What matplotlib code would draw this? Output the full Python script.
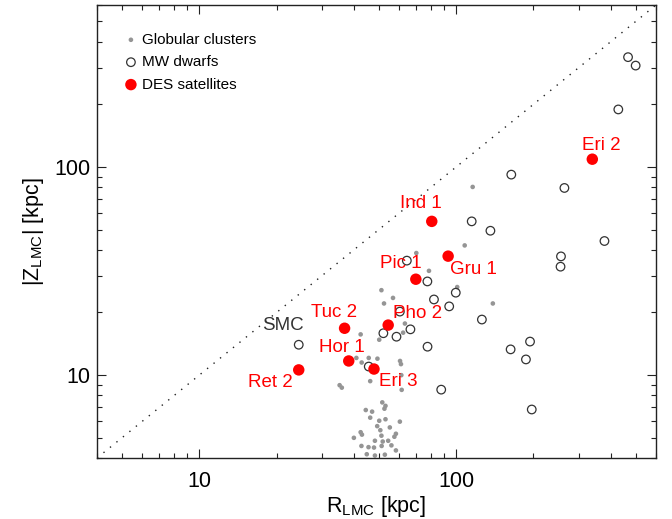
import numpy as np
import matplotlib.pyplot as plt
from matplotlib import ticker

plt.rcParams['font.family'] = ['Liberation Sans', 'DejaVu Sans']
plt.rcParams['mathtext.fontset'] = 'custom'
plt.rcParams['mathtext.rm'] = 'Liberation Sans'
plt.rcParams['mathtext.it'] = 'Liberation Sans:italic'

# Globular clusters: distance from LMC centre (R) and height above LMC disc (|Z), kpc
gc_r = [116, 108, 70.0, 78.4, 101, 139, 51.2, 56.8, 52.4, 63.2, 62.2, 42.5, 50.2,
        40.9, 42.9, 45.7, 49.4, 60.5, 61.0, 61.2, 46.3, 35.2, 35.9, 61.4, 51.6,
        53.1, 52.6, 44.5, 47.1, 46.3, 50.2, 53.1, 60.4, 49.3, 55.2, 42.5, 43.0,
        40.0, 50.7, 51.2, 58.3, 57.5, 48.3, 51.8, 54.4, 42.8, 45.6, 47.9, 56.0,
        58.3, 44.9, 48.3, 52.8, 51.3]
gc_z = [80.2, 42.0, 38.6, 31.7, 26.5, 22.1, 25.6, 23.5, 22.1, 17.7, 16.0, 15.7, 14.8,
        12.1, 11.5, 12.1, 12.0, 11.7, 11.3, 10.0, 9.36, 8.95, 8.71, 8.50, 7.40,
        7.12, 6.90, 6.80, 6.68, 6.25, 6.04, 6.14, 5.98, 5.69, 5.61, 5.32, 5.18,
        5.00, 5.44, 5.12, 5.23, 5.06, 4.84, 4.80, 4.84, 4.57, 4.51, 4.49, 4.60,
        4.35, 4.17, 4.11, 4.15, 4.57]

# Milky Way dwarf galaxies (SMC is the first entry)
mw_r = [24.4, 467, 500, 428, 164, 264, 115, 136, 378, 256, 255, 99.7, 82.0, 94.0,
        126, 194, 163, 187, 87.5, 197, 77.3, 64.3, 66.4, 52.1, 58.6, 77.4, 45.7, 60.4]
mw_z = [14.0, 337, 307, 189, 91.9, 79.3, 54.8, 49.4, 44.1, 37.2, 33.2, 24.9, 23.1, 21.4,
        18.5, 14.5, 13.3, 11.9, 8.52, 6.84, 28.2, 35.5, 16.6, 15.9, 15.3, 13.7, 11.0, 20.2]

# DES satellites
des_names = ['Ret 2', 'Hor 1', 'Tuc 2', 'Eri 3', 'Pho 2', 'Pic 1', 'Gru 1', 'Ind 1', 'Eri 2']
des_r = [24.4, 38.2, 36.8, 47.9, 54.4, 69.7, 93.1, 80.4, 339]
des_z = [10.6, 11.7, 16.8, 10.7, 17.4, 28.9, 37.3, 54.8, 109]
# label offsets in pixels from each point
des_off = [(-28, -13), (-7, 13), (-11, 16), (24, -12), (29, 12),
           (-15, 16), (25, -13), (-11, 18), (9, 14)]

fig = plt.figure(figsize=(6.72, 5.19), dpi=100)
ax = fig.add_axes([97 / 672, 1 - 458 / 519, 559 / 672, 453 / 519])
ax.set_xscale('log')
ax.set_yscale('log')
ax.set_xlim(4, 600)
ax.set_ylim(4, 600)

# one-to-one line
ax.plot([4, 600], [4, 600], color='#222222', lw=1.0, linestyle=(0, (1, 5)), zorder=1)

ax.scatter(gc_r, gc_z, s=11, color='#959595', edgecolors='none', zorder=2,
           label='Globular clusters')
ax.scatter(mw_r, mw_z, s=38, facecolors='none', edgecolors='#333333', linewidths=0.9,
           zorder=3, label='MW dwarfs')
ax.scatter(des_r, des_z, s=68, color='#ff0000', edgecolors='none', zorder=4,
           label='DES satellites')

for name, r, z, off in zip(des_names, des_r, des_z, des_off):
    ax.annotate(name, (r, z), xytext=off, textcoords='offset pixels',
                ha='center', va='center', color='#ff0000', fontsize=13.5, zorder=5)
ax.annotate('SMC', (mw_r[0], mw_z[0]), xytext=(-16, 19), textcoords='offset pixels',
            ha='center', va='center', color='#333333', fontsize=13.5, zorder=5)

fmt = ticker.FuncFormatter(lambda v, p: f'{v:g}')
for axis in (ax.xaxis, ax.yaxis):
    axis.set_major_locator(ticker.LogLocator(base=10))
    axis.set_minor_locator(ticker.LogLocator(base=10, subs=np.arange(2, 10)))
    axis.set_major_formatter(fmt)
    axis.set_minor_formatter(ticker.NullFormatter())

ax.tick_params(which='both', direction='in', top=True, right=True, width=0.8,
               color='#222222', labelsize=15.5)
ax.tick_params(which='major', length=6.5)
ax.tick_params(which='minor', length=3.6)
ax.tick_params(axis='x', pad=9.5)
ax.tick_params(axis='y', pad=4.5)
for sp in ax.spines.values():
    sp.set_linewidth(1.0)
    sp.set_color('#222222')

ax.set_xlabel(r'R$_{\rm LMC}$ [kpc]', fontsize=15.5, labelpad=1)
ax.set_ylabel(r'|Z$_{\rm LMC}$| [kpc]', fontsize=15.5, labelpad=6)

ax.legend(loc='upper left', frameon=False, fontsize=11, handlelength=0.8,
          handletextpad=0.3, labelspacing=0.55, borderaxespad=1.42, scatterpoints=1)

fig.savefig('out.png', dpi=100)
